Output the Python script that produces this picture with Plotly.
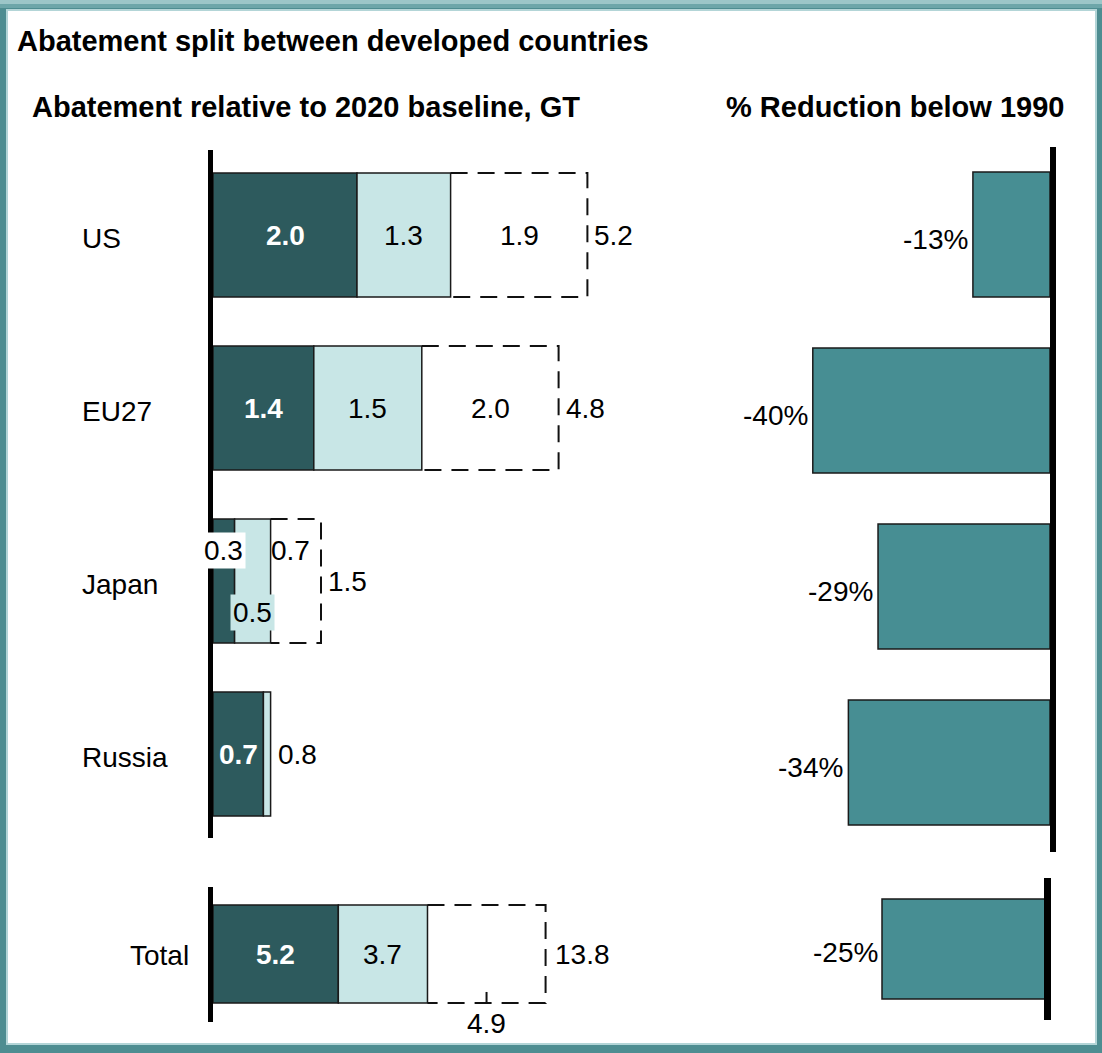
import plotly.graph_objects as go

# ---------------- data ----------------
countries = ["US", "EU27", "Japan", "Russia"]
committed = [2.0, 1.4, 0.3, 0.7]      # dark segment
additional = [1.3, 1.5, 0.5, 0.1]     # light segment
remaining = [1.9, 2.0, 0.7, 0.0]      # dashed segment label
totals = [5.2, 4.8, 1.5, 0.8]
reduction_pct = [-13, -40, -29, -34]

total_name = "Total"
total_committed = 5.2
total_additional = 3.7
total_remaining = 4.9
total_sum = 13.8
total_reduction = -25

title = "Abatement split between developed countries"
left_title = "Abatement relative to 2020 baseline, GT"
right_title = "% Reduction below 1990"

# ---------------- style ----------------
W, H = 1102, 1053
FONT = "Liberation Sans, Arial, sans-serif"
DARK = "#2D5A5D"
LIGHT = "#C8E6E6"
RIGHT = "#478E93"
EDGE = "#1a1a1a"
FS = 28


def px(x):
    return x / W


def py(y):
    return 1 - y / H


def xr(zero_px, ppu):
    return [-zero_px / ppu, (W - zero_px) / ppu]


def yr(c0, step):
    return [(H - c0) / step, -c0 / step]


pos = list(range(len(countries)))
bw_top, bw_tot = 0.717, 0.566
rw_top, rw_tot = 0.71, 0.568

fig = go.Figure()

# left: countries
fig.add_trace(go.Bar(x=committed, y=pos, base=[0] * len(pos), orientation="h", width=bw_top,
                     marker=dict(color=DARK, line=dict(color=EDGE, width=1.5)),
                     xaxis="x", yaxis="y", hoverinfo="skip"))
fig.add_trace(go.Bar(x=additional, y=pos, base=committed, orientation="h", width=bw_top,
                     marker=dict(color=LIGHT, line=dict(color=EDGE, width=1.5)),
                     xaxis="x", yaxis="y", hoverinfo="skip"))

dx, dy = [], []
for i in pos:
    left = committed[i] + additional[i]
    right = totals[i]
    if right - left > 1e-6:
        h = bw_top / 2
        dx += [left, right, right, left, None]
        dy += [i - h, i - h, i + h, i + h, None]
fig.add_trace(go.Scatter(x=dx, y=dy, mode="lines", xaxis="x", yaxis="y",
                         line=dict(color="#111", width=2, dash="17px,10px"), hoverinfo="skip"))

# left: total
fig.add_trace(go.Bar(x=[total_committed], y=[0], base=[0], orientation="h", width=bw_tot,
                     marker=dict(color=DARK, line=dict(color=EDGE, width=1.5)),
                     xaxis="x2", yaxis="y2", hoverinfo="skip"))
fig.add_trace(go.Bar(x=[total_additional], y=[0], base=[total_committed], orientation="h", width=bw_tot,
                     marker=dict(color=LIGHT, line=dict(color=EDGE, width=1.5)),
                     xaxis="x2", yaxis="y2", hoverinfo="skip"))
tl = total_committed + total_additional
h = bw_tot / 2
fig.add_trace(go.Scatter(x=[tl, total_sum, total_sum, tl], y=[-h, -h, h, h], mode="lines",
                         xaxis="x2", yaxis="y2",
                         line=dict(color="#111", width=2, dash="17px,10px"), hoverinfo="skip"))

# right: reductions
fig.add_trace(go.Bar(x=reduction_pct, y=pos, base=[0] * len(pos), orientation="h", width=rw_top,
                     marker=dict(color=RIGHT, line=dict(color=EDGE, width=1.5)),
                     xaxis="x3", yaxis="y3", hoverinfo="skip"))
fig.add_trace(go.Bar(x=[total_reduction], y=[0], base=[0], orientation="h", width=rw_tot,
                     marker=dict(color=RIGHT, line=dict(color=EDGE, width=1.5)),
                     xaxis="x4", yaxis="y4", hoverinfo="skip"))

ann = []


def A(text, x, y, xref, yref, xanchor="center", yanchor="middle", color="black",
      size=FS, xshift=0, yshift=0, bg=None):
    d = dict(text=text, x=x, y=y, xref=xref, yref=yref, xanchor=xanchor, yanchor=yanchor,
             showarrow=False, font=dict(family=FONT, size=size, color=color),
             xshift=xshift, yshift=yshift, borderpad=2)
    if bg:
        d["bgcolor"] = bg
    ann.append(d)


# titles
A("<b>" + title + "</b>", px(18), py(41), "paper", "paper", xanchor="left", size=29, xshift=-4)
A("<b>" + left_title + "</b>", px(33), py(107), "paper", "paper", xanchor="left", size=29, xshift=-4)
A("<b>" + right_title + "</b>", px(727), py(107), "paper", "paper", xanchor="left", size=29, xshift=-4)

# category labels
for i, c in enumerate(countries):
    A(c, px(83), i, "paper", "y", xanchor="left", yshift=-3, xshift=-4)
A(total_name, px(189), 0, "paper", "y2", xanchor="right", yshift=-1, xshift=3)

# value labels (countries)
for i, c in enumerate(countries):
    d0 = committed[i]
    l0 = d0 + additional[i]
    if c == "Japan":
        A(f"{committed[i]:.1f}", d0 / 2, i, "x", "y", yshift=31, bg="white")
        A(f"{additional[i]:.1f}", d0 + additional[i] / 2, i, "x", "y", yshift=-31, bg=LIGHT)
        A(f"{remaining[i]:.1f}", (l0 + totals[i]) / 2 - 0.08, i, "x", "y", yshift=31)
    else:
        A(f"<b>{committed[i]:.1f}</b>", d0 / 2, i, "x", "y", color="white")
        if additional[i] >= 0.5:
            A(f"{additional[i]:.1f}", d0 + additional[i] / 2, i, "x", "y")
        if remaining[i] > 0:
            A(f"{remaining[i]:.1f}", (l0 + totals[i]) / 2, i, "x", "y")
    A(f"{totals[i]:.1f}", max(totals[i], l0), i, "x", "y", xanchor="left", xshift=4)

# value labels (total)
A(f"<b>{total_committed:.1f}</b>", total_committed / 2, 0, "x2", "y2", color="white")
A(f"{total_additional:.1f}", total_committed + total_additional / 2, 0, "x2", "y2")
A(f"{total_sum:.1f}", total_sum, 0, "x2", "y2", xanchor="left", xshift=6)
mid = tl + total_remaining / 2
A(f"{total_remaining:.1f}", mid, h, "x2", "y2", yanchor="top", yshift=-2)

# right labels
for i, v in enumerate(reduction_pct):
    A(f"{v}%", v, i, "x3", "y3", xanchor="right", xshift=-2, yshift=-5)
A(f"{total_reduction}%", total_reduction, 0, "x4", "y4", xanchor="right", xshift=-1, yshift=-3)

shapes = []
# frame
shapes.append(dict(type="rect", xref="paper", yref="paper", x0=0, x1=1, y0=py(0), y1=py(4),
                   fillcolor="#9CC6C8", line=dict(width=0), layer="below"))
shapes.append(dict(type="rect", xref="paper", yref="paper", x0=0, x1=1, y0=py(4), y1=py(8),
                   fillcolor="#6DA6A9", line=dict(width=0), layer="below"))
shapes.append(dict(type="rect", xref="paper", yref="paper", x0=px(7), x1=px(1096), y0=py(10), y1=py(1044),
                   fillcolor="white", line=dict(color="#B3D5D7", width=2), layer="below"))
# axis lines
shapes.append(dict(type="rect", xref="x", yref="paper", xsizemode="pixel", xanchor=0, x0=-5, x1=0,
                   y0=py(150), y1=py(838), fillcolor="black", line=dict(width=0)))
shapes.append(dict(type="rect", xref="x2", yref="paper", xsizemode="pixel", xanchor=0, x0=-5, x1=0,
                   y0=py(887), y1=py(1022), fillcolor="black", line=dict(width=0)))
shapes.append(dict(type="rect", xref="x3", yref="paper", xsizemode="pixel", xanchor=0, x0=0, x1=6,
                   y0=py(147), y1=py(852), fillcolor="black", line=dict(width=0)))
shapes.append(dict(type="rect", xref="x4", yref="paper", xsizemode="pixel", xanchor=0, x0=-1, x1=6,
                   y0=py(878), y1=py(1020), fillcolor="black", line=dict(width=0)))
# tick for remaining total
shapes.append(dict(type="line", xref="x2", yref="y2", ysizemode="pixel", yanchor=h, x0=mid, x1=mid,
                   y0=-1, y1=11, line=dict(color="#111", width=2)))

ax = dict(visible=False, fixedrange=True, domain=[0, 1])
fig.update_layout(
    width=W, height=H, autosize=False,
    margin=dict(l=0, r=0, t=0, b=0, pad=0),
    paper_bgcolor="#4E8D91", plot_bgcolor="rgba(0,0,0,0)",
    showlegend=False, barmode="overlay",
    xaxis=dict(**ax, range=xr(213, 72.0), anchor="y"),
    xaxis2=dict(**ax, range=xr(213, 24.1), overlaying="x", anchor="y2"),
    xaxis3=dict(**ax, range=xr(1050, 5.93), overlaying="x", anchor="y3"),
    xaxis4=dict(**ax, range=xr(1045, 6.52), overlaying="x", anchor="y4"),
    yaxis=dict(**ax, range=yr(235, 173), anchor="x"),
    yaxis2=dict(**ax, range=yr(954, 173), overlaying="y", anchor="x2"),
    yaxis3=dict(**ax, range=yr(234.5, 176), overlaying="y", anchor="x3"),
    yaxis4=dict(**ax, range=yr(949, 176), overlaying="y", anchor="x4"),
    annotations=ann, shapes=shapes,
)

fig.write_html("out.html", config=dict(displayModeBar=False),
               post_script="document.body.style.margin='0';document.body.style.overflow='hidden';")
